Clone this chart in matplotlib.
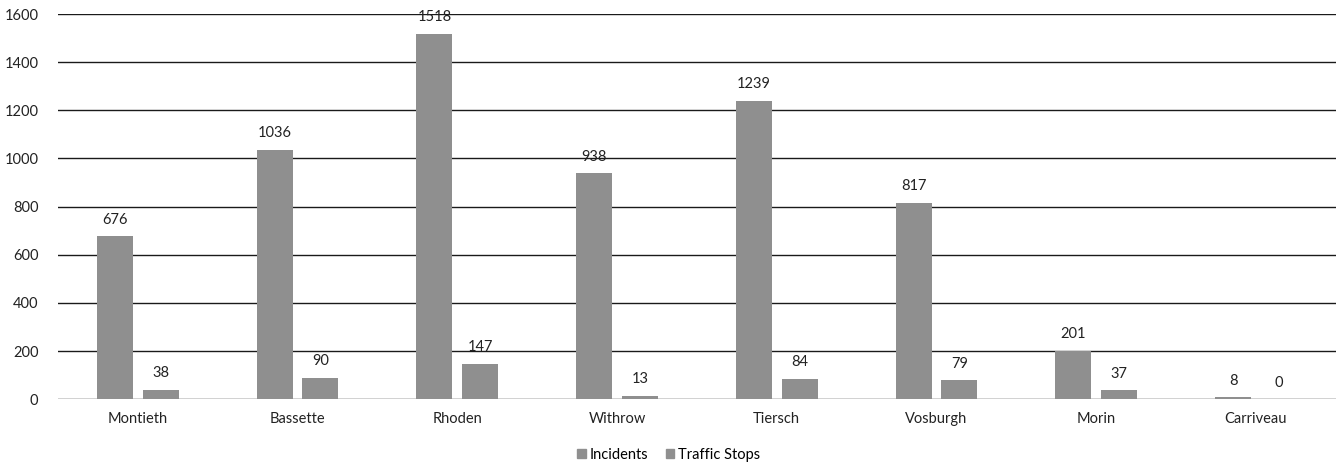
import numpy as np
import matplotlib
matplotlib.use("Agg")
import matplotlib.pyplot as plt
from matplotlib.patches import Patch

names = ['Montieth', 'Bassette', 'Rhoden', 'Withrow', 'Tiersch', 'Vosburgh', 'Morin', 'Carriveau']
incidents = [676, 1036, 1518, 938, 1239, 817, 201, 8]
traffic_stops = [38, 90, 147, 13, 84, 79, 37, 0]
yticks = [0, 200, 400, 600, 800, 1000, 1200, 1400, 1600]

plt.rcParams['font.family'] = ['Lato', 'DejaVu Sans']
bar_color = '#8f8f8f'
fs = 10.5

fig = plt.figure(figsize=(13.38, 4.68), dpi=100)
ax = fig.add_axes([0.0433, 0.147, 0.955, 0.823])

x = np.arange(len(names))
w = 0.225
off = 0.143
b1 = ax.bar(x - off, incidents, w, color=bar_color, zorder=3)
b2 = ax.bar(x + off, traffic_stops, w, color=bar_color, zorder=3)

for bars, vals in [(b1, incidents), (b2, traffic_stops)]:
    for rect, v in zip(bars, vals):
        ax.text(rect.get_x() + rect.get_width() / 2, v + 40, str(v),
                ha='center', va='bottom', fontsize=fs, color='#222222')

ax.set_xlim(-0.5, len(names) - 0.5)
ax.set_ylim(0, 1600)
ax.set_yticks(yticks)
ax.set_xticks(x)
ax.set_xticklabels(names)
ax.tick_params(axis='both', length=0, labelsize=fs, colors='#222222')
ax.tick_params(axis='x', pad=9)
ax.tick_params(axis='y', pad=14)
ax.yaxis.grid(True, color='#1a1a1a', linewidth=1.0, zorder=0)
for s in ax.spines.values():
    s.set_visible(False)

handles = [Patch(color=bar_color, label='Incidents'), Patch(color=bar_color, label='Traffic Stops')]
fig.legend(handles=handles, loc='lower center', bbox_to_anchor=(0.5, -0.015), ncol=2,
           frameon=False, fontsize=fs, handlelength=0.55, handleheight=0.55,
           handletextpad=0.3, columnspacing=1.2)

fig.savefig('out.png', dpi=100)
